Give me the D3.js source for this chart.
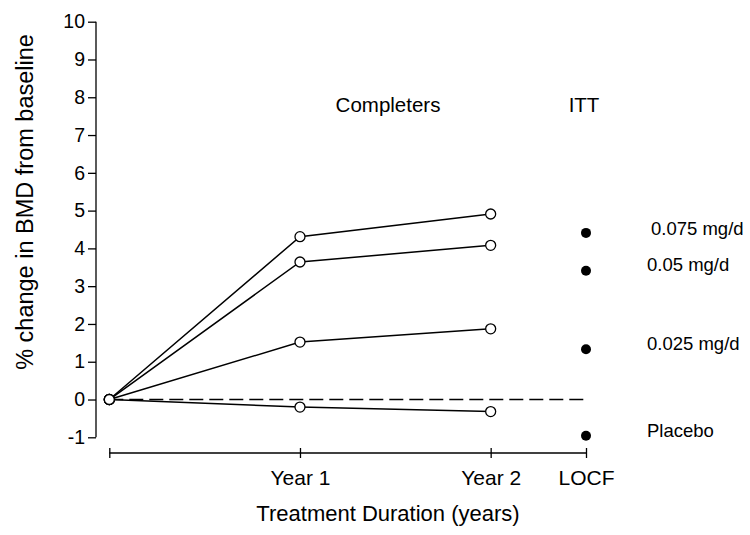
<!DOCTYPE html>
<html><head><meta charset="utf-8">
<script src="https://cdn.jsdelivr.net/npm/d3@7"></script>
<style>body{margin:0;background:#fff}text{font-family:"Liberation Sans",Arial,sans-serif;fill:#000}</style>
</head><body><svg id="c" width="750" height="535"></svg>
<script>
const timepoints = [0, 1, 2];
const xTickPositions = [0, 1, 2, 2.5];
const xTickLabels = ["", "Year 1", "Year 2", "LOCF"];
const yTicks = [-1,0,1,2,3,4,5,6,7,8,9,10];
const seriesNames = ["0.075 mg/d", "0.05 mg/d", "0.025 mg/d", "Placebo"];
const completers075 = [0, 4.31, 4.91];
const completers05 = [0, 3.64, 4.08];
const completers025 = [0, 1.52, 1.87];
const completersPlacebo = [0, -0.20, -0.32];
const ittLOCF = [4.41, 3.41, 1.33, -0.96];

const svg = d3.select("#c");
const FF = "Liberation Sans, Arial, sans-serif";
const x = d3.scaleLinear().domain([0, 2.5]).range([109.3, 586]);
const y = d3.scaleLinear().domain([-1, 10]).range([437.3, 21.7]);

// Y axis
const yAxis = svg.append("g").attr("transform","translate(96,0)")
  .call(d3.axisLeft(y).tickValues(yTicks).tickSize(8).tickPadding(3).tickFormat(d=>String(d)));
yAxis.select(".domain").attr("d", `M0,${y(10)}V${y(-1)}`).attr("stroke","#000").attr("stroke-width",1.3);
yAxis.selectAll(".tick line").attr("stroke","#000").attr("stroke-width",1.3);
yAxis.selectAll("text").attr("font-size",19.5).style("font-family",FF).attr("fill","#000");

// X axis
const xAxis = svg.append("g").attr("transform","translate(0,453)")
  .call(d3.axisBottom(x).tickValues(xTickPositions).tickSize(5).tickPadding(12).tickFormat((d,i)=>xTickLabels[i]));
xAxis.select(".domain").attr("d", `M${x(0)},0H${x(2.5)}`).attr("stroke","#000").attr("stroke-width",1.3);
xAxis.selectAll(".tick line").attr("y1",-5).attr("y2",5).attr("stroke","#000").attr("stroke-width",1.3);
xAxis.selectAll("text").attr("font-size",21).style("font-family",FF).attr("fill","#000");

// dashed zero line
svg.append("line").attr("x1",x(0)).attr("x2",x(2.5)).attr("y1",y(0)).attr("y2",y(0))
  .attr("stroke","#000").attr("stroke-width",1.3).attr("stroke-dasharray","14,6");

const series = [completers075, completers05, completers025, completersPlacebo];
const line = d3.line().x((d,i)=>x(timepoints[i])).y(d=>y(d));
series.forEach(s=>{
  svg.append("path").attr("d",line(s)).attr("fill","none").attr("stroke","#000").attr("stroke-width",1.5);
});
series.forEach(s=>{
  svg.selectAll(null).data(s).enter().append("circle")
    .attr("cx",(d,i)=>x(timepoints[i])).attr("cy",d=>y(d)).attr("r",5)
    .attr("fill","#fff").attr("stroke","#000").attr("stroke-width",1.3);
});

// ITT LOCF points
svg.selectAll(".itt").data(ittLOCF).enter().append("circle")
  .attr("cx",x(2.5)).attr("cy",d=>y(d)).attr("r",5).attr("fill","#000");

// Labels
const labelY = [4.48, 3.52, 1.45, -0.85];
svg.selectAll(".lbl").data(seriesNames).enter().append("text")
  .attr("x",(d,i)=> i===0 ? 651 : 647).attr("y",(d,i)=>y(labelY[i]))
  .attr("dominant-baseline","middle").attr("font-size",18.5).text(d=>d);

svg.append("text").attr("x",388).attr("y",112).attr("text-anchor","middle").attr("font-size",20.5).text("Completers");
svg.append("text").attr("x",584).attr("y",112).attr("text-anchor","middle").attr("font-size",20.5).text("ITT");
svg.append("text").attr("x",388).attr("y",521).attr("text-anchor","middle").attr("font-size",22).text("Treatment Duration (years)");
svg.append("text").attr("transform","translate(33,202) rotate(-90)").attr("text-anchor","middle").attr("font-size",23.5).text("% change in BMD from baseline");
</script></body></html>
